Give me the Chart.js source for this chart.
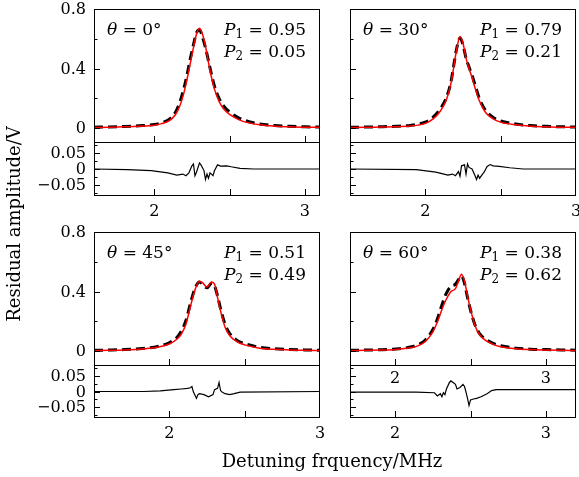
<!DOCTYPE html>
<html>
<head>
<meta charset="utf-8">
<script src="https://cdn.jsdelivr.net/npm/chart.js@4.4.1/dist/chart.umd.min.js"></script>
<style>
  body { margin: 0; background: #fff; }
  #wrap { position: relative; width: 579px; height: 477px; }
  #wrap canvas { position: absolute; left: 0; top: 0; }
</style>
</head>
<body>
<div id="wrap"></div>
<script>
// tick values / labels
const mainYMajor = [0, 0.4, 0.8];
const mainYMinor = [0.2, 0.6];
const resYMajor = [-0.05, 0, 0.05];
const resYMinor = [-0.075, -0.025, 0.025, 0.075];
const xTickVals = [1.5, 2, 2.5, 3, 3.5];
const xLabelVals = [2, 3];
const mainYLabels = ["0", "0.4", "0.8"];
const resYLabels = ["\u22120.05", "0", "0.05"];

const thetas = ["0", "30", "45", "60"];
const p1 = ["0.95", "0.79", "0.51", "0.38"];
const p2 = ["0.05", "0.21", "0.49", "0.62"];

// theta = 0
const x0 = [1.60,1.70,1.80,1.90,2.00,2.05,2.10,2.14,2.17,2.20,2.22,2.24,2.26,2.28,2.30,2.32,2.34,2.36,2.38,2.40,2.43,2.46,2.50,2.55,2.60,2.70,2.80,2.90,3.00,3.10];
const fit0 = [0.004,0.006,0.009,0.013,0.020,0.030,0.050,0.090,0.150,0.250,0.340,0.440,0.540,0.630,0.670,0.630,0.550,0.440,0.340,0.260,0.180,0.130,0.092,0.062,0.042,0.022,0.013,0.009,0.006,0.005];
const meas0 = [0.006,0.008,0.011,0.016,0.024,0.036,0.060,0.105,0.175,0.280,0.370,0.470,0.560,0.640,0.660,0.610,0.540,0.450,0.360,0.280,0.200,0.150,0.108,0.074,0.052,0.028,0.017,0.012,0.009,0.007];
const rx0 = [1.60,1.82,1.98,2.09,2.15,2.19,2.21,2.23,2.25,2.26,2.27,2.28,2.30,2.31,2.33,2.34,2.35,2.36,2.37,2.39,2.40,2.42,2.44,2.48,2.51,2.57,2.66,3.10];
const res0 = [0,-0.002,-0.005,-0.012,-0.019,-0.016,-0.021,-0.012,0.010,0.016,-0.021,-0.010,0.019,0.013,-0.005,-0.033,-0.016,-0.029,-0.012,-0.021,-0.005,0.013,0.009,0.010,0.007,0.002,0,0];

// theta = 30
const x30 = [1.50,1.60,1.70,1.80,1.90,1.95,2.00,2.05,2.10,2.14,2.17,2.19,2.21,2.23,2.25,2.27,2.29,2.31,2.33,2.36,2.40,2.45,2.50,2.60,2.70,2.80,2.90,3.00];
const fit30 = [0.004,0.005,0.007,0.009,0.014,0.020,0.032,0.060,0.115,0.190,0.300,0.420,0.540,0.615,0.570,0.470,0.400,0.340,0.270,0.180,0.105,0.062,0.040,0.022,0.013,0.009,0.006,0.005];
const meas30 = [0.006,0.007,0.009,0.012,0.018,0.026,0.040,0.072,0.130,0.205,0.310,0.430,0.545,0.605,0.560,0.470,0.410,0.355,0.290,0.195,0.118,0.072,0.048,0.027,0.017,0.012,0.009,0.007];
const rx30 = [1.50,1.94,2.07,2.15,2.18,2.20,2.22,2.23,2.24,2.26,2.27,2.28,2.29,2.31,2.33,2.34,2.35,2.36,2.38,2.39,2.41,2.43,2.45,2.49,2.56,2.65,3.00];
const res30 = [0,-0.002,-0.010,-0.019,-0.016,-0.021,-0.008,-0.023,0.010,0.013,-0.016,0.016,0.005,0,-0.021,-0.033,-0.019,-0.029,-0.016,-0.010,0.008,0.014,0.010,0.008,0.004,0,0];

// theta = 45
const x45 = [1.50,1.60,1.70,1.80,1.90,1.95,2.00,2.05,2.08,2.11,2.14,2.17,2.20,2.22,2.25,2.28,2.30,2.32,2.34,2.37,2.40,2.45,2.50,2.60,2.70,2.80,2.90,3.00];
const fit45 = [0.003,0.005,0.008,0.013,0.022,0.032,0.048,0.080,0.115,0.180,0.300,0.410,0.470,0.460,0.430,0.465,0.450,0.360,0.270,0.160,0.105,0.062,0.042,0.020,0.012,0.008,0.005,0.004];
const meas45 = [0.005,0.007,0.010,0.016,0.026,0.038,0.056,0.092,0.135,0.205,0.320,0.420,0.465,0.450,0.425,0.455,0.440,0.370,0.285,0.180,0.120,0.072,0.050,0.026,0.016,0.011,0.008,0.006];
const rx45 = [1.50,1.83,1.94,2.03,2.08,2.12,2.14,2.15,2.16,2.18,2.19,2.20,2.23,2.26,2.29,2.30,2.32,2.33,2.34,2.35,2.37,2.40,2.43,2.47,3.00];
const res45 = [0,0,0.002,0.006,0.008,0.010,0.012,0.016,-0.002,-0.022,-0.010,-0.007,-0.010,-0.017,-0.010,0.006,0.010,0.029,0.003,-0.002,-0.007,-0.010,-0.007,-0.002,0];

// theta = 60
const x60 = [1.70,1.80,1.90,2.00,2.10,2.15,2.20,2.25,2.28,2.31,2.34,2.37,2.40,2.42,2.44,2.46,2.48,2.50,2.53,2.56,2.60,2.65,2.70,2.80,2.90,3.00,3.10,3.20];
const fit60 = [0.003,0.005,0.007,0.011,0.022,0.035,0.065,0.130,0.195,0.280,0.350,0.400,0.420,0.470,0.517,0.470,0.370,0.280,0.170,0.110,0.072,0.045,0.030,0.016,0.010,0.007,0.005,0.004];
const meas60 = [0.005,0.007,0.009,0.014,0.027,0.042,0.075,0.145,0.215,0.310,0.390,0.435,0.450,0.480,0.505,0.455,0.360,0.275,0.175,0.118,0.080,0.052,0.036,0.020,0.013,0.010,0.008,0.006];
const rx60 = [1.70,2.14,2.26,2.28,2.30,2.31,2.32,2.33,2.34,2.36,2.37,2.40,2.41,2.43,2.45,2.46,2.47,2.48,2.49,2.50,2.52,2.54,2.57,2.61,2.64,2.67,3.20];
const res60 = [-0.002,-0.002,-0.004,-0.014,-0.007,-0.017,-0.004,-0.010,0.008,0.029,0.034,0.023,0.008,0.013,0.023,0.016,-0.002,-0.022,-0.045,-0.027,-0.024,-0.022,-0.017,-0.007,0.003,0.006,0.006];

const W = 579, H = 477;
const FONT = "'DejaVu Serif'";

function pts(xs, ys) {
    return xs.map((x, i) => ({ x: x, y: ys[i] }));
}

// draws italic/sub pieces one after the other
function drawMath(ctx, parts, x, y, alignRight) {
    let total = 0;
    parts.forEach(p => {
        ctx.font = p.font;
        total += ctx.measureText(p.t).width;
    });
    let cx = alignRight ? x - total : x;
    parts.forEach(p => {
        ctx.font = p.font;
        ctx.fillText(p.t, cx, y + (p.dy || 0));
        cx += ctx.measureText(p.t).width;
    });
}

const framePlugin = {
    id: 'frame',
    afterDraw(chart, args, o) {
        const ctx = chart.ctx;
        const a = chart.chartArea;
        const xs = chart.scales.x, ys = chart.scales.y;
        ctx.save();
        ctx.strokeStyle = '#000';
        ctx.fillStyle = '#000';
        ctx.lineWidth = 1;
        ctx.strokeRect(Math.round(a.left) + 0.5, Math.round(a.top) + 0.5,
            Math.round(a.right - a.left) - 1, Math.round(a.bottom - a.top) - 1);

        ctx.beginPath();
        o.yMajor.forEach(v => {
            const y = Math.round(ys.getPixelForValue(v)) + 0.5;
            ctx.moveTo(a.left, y); ctx.lineTo(a.left + 6, y);
        });
        o.yMinor.forEach(v => {
            const y = Math.round(ys.getPixelForValue(v)) + 0.5;
            ctx.moveTo(a.left, y); ctx.lineTo(a.left + 3.5, y);
        });
        xTickVals.forEach(v => {
            if (v <= xs.min || v >= xs.max) return;
            const x = Math.round(xs.getPixelForValue(v)) + 0.5;
            ctx.moveTo(x, a.bottom); ctx.lineTo(x, a.bottom - 7);
        });
        ctx.stroke();

        ctx.font = '16px ' + FONT;
        if (o.yLabels) {
            ctx.textAlign = 'right';
            ctx.textBaseline = 'middle';
            o.yMajor.forEach((v, i) => {
                ctx.fillText(o.yLabels[i], a.left - 8, ys.getPixelForValue(v) + 1);
            });
        }
        if (o.xLabelOffset) {
            ctx.textAlign = 'center';
            ctx.textBaseline = 'middle';
            xLabelVals.forEach(v => {
                ctx.fillText(String(v), xs.getPixelForValue(v), a.bottom + o.xLabelOffset);
            });
        }
        if (o.note !== undefined) {
            const k = o.note;
            const rm = '17px ' + FONT, it = 'italic 17px ' + FONT, sb = '12px ' + FONT;
            ctx.textAlign = 'left';
            ctx.textBaseline = 'middle';
            drawMath(ctx, [{ t: '\u03b8', font: it }, { t: ' = ' + thetas[k] + '\u00b0', font: rm }],
                a.left + 13, a.top + 22, false);
            drawMath(ctx, [{ t: 'P', font: it }, { t: '1', font: sb, dy: 4 }, { t: ' = ' + p1[k], font: rm }],
                a.right - 14, a.top + 22, true);
            drawMath(ctx, [{ t: 'P', font: it }, { t: '2', font: sb, dy: 4 }, { t: ' = ' + p2[k], font: rm }],
                a.right - 14, a.top + 44, true);
        }
        if (o.titles) {
            ctx.font = '18px ' + FONT;
            ctx.textAlign = 'center';
            ctx.textBaseline = 'middle';
            ctx.fillText('Detuning frquency/MHz', 332, 462);
            ctx.translate(15, 224);
            ctx.rotate(-Math.PI / 2);
            ctx.fillText('Residual amplitude/V', 0, 0);
        }
        ctx.restore();
    }
};

function makePlot(box, xr, yr, datasets, deco) {
    const c = document.createElement('canvas');
    c.width = W; c.height = H;
    c.style.width = W + 'px'; c.style.height = H + 'px';
    document.getElementById('wrap').appendChild(c);
    return new Chart(c, {
        type: 'line',
        data: { datasets: datasets },
        options: {
            responsive: false,
            animation: false,
            events: [],
            layout: { padding: { left: box.l, top: box.t, right: W - box.r, bottom: H - box.b } },
            scales: {
                x: { type: 'linear', min: xr[0], max: xr[1], display: false },
                y: { type: 'linear', min: yr[0], max: yr[1], display: false }
            },
            elements: { point: { radius: 0 } },
            plugins: { legend: { display: false }, tooltip: { enabled: false }, frame: deco }
        },
        plugins: [framePlugin]
    });
}

function mainSets(xs, fit, meas) {
    return [
        { data: pts(xs, fit), borderColor: '#ff0000', borderWidth: 1.5, order: 0,
          cubicInterpolationMode: 'monotone', fill: false },
        { data: pts(xs, meas), borderColor: '#000', borderWidth: 3, borderDash: [9, 5], order: 1,
          cubicInterpolationMode: 'monotone', fill: false }
    ];
}
function resSets(xs, ys) {
    return [{ data: pts(xs, ys), borderColor: '#000', borderWidth: 1.2, tension: 0, fill: false }];
}

const mainY = [-0.1, 0.8];
const resY = [-0.085, 0.085];

const panels = [
    { l: 94, r: 320, t: 9, m: 142, b: 196, xr: [1.6, 3.1], xs: x0, fit: fit0, meas: meas0, rx: rx0, res: res0, left: true },
    { l: 350, r: 576, t: 9, m: 142, b: 196, xr: [1.5, 3.0], xs: x30, fit: fit30, meas: meas30, rx: rx30, res: res30, left: false },
    { l: 94, r: 320, t: 232, m: 365, b: 418, xr: [1.5, 3.0], xs: x45, fit: fit45, meas: meas45, rx: rx45, res: res45, left: true },
    { l: 350, r: 576, t: 232, m: 365, b: 418, xr: [1.7, 3.2], xs: x60, fit: fit60, meas: meas60, rx: rx60, res: res60, left: false }
];

panels.forEach((p, k) => {
    makePlot({ l: p.l, r: p.r, t: p.t, b: p.m + 1 }, p.xr, mainY, mainSets(p.xs, p.fit, p.meas), {
        yMajor: mainYMajor, yMinor: mainYMinor,
        yLabels: p.left ? mainYLabels : null,
        xLabelOffset: k === 3 ? 13 : 0,
        note: k,
        titles: k === 0
    });
    makePlot({ l: p.l, r: p.r, t: p.m, b: p.b }, p.xr, resY, resSets(p.rx, p.res), {
        yMajor: resYMajor, yMinor: resYMinor,
        yLabels: p.left ? resYLabels : null,
        xLabelOffset: 16
    });
});
</script>
</body>
</html>
